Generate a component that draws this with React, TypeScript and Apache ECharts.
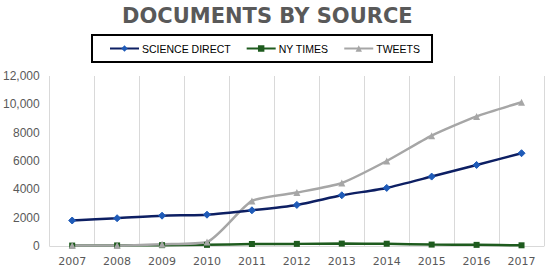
import React, { useEffect, useRef } from "react";
import * as echarts from "echarts";

const years = ["2007", "2008", "2009", "2010", "2011", "2012", "2013", "2014", "2015", "2016", "2017"];
const scienceDirect = [1800, 1960, 2140, 2210, 2520, 2900, 3580, 4100, 4900, 5720, 6550];
const nyTimes = [30, 40, 60, 80, 140, 150, 170, 160, 100, 80, 50];
const tweets = [30, 30, 120, 280, 3180, 3770, 4450, 6000, 7790, 9150, 10150];

export default function App() {
  const ref = useRef<HTMLDivElement>(null);
  useEffect(() => {
    if (!ref.current) return;
    const chart = echarts.init(ref.current, undefined, { renderer: "svg" });
    chart.setOption({
      animation: false,
      backgroundColor: "#ffffff",
      title: {
        text: "DOCUMENTS BY SOURCE",
        left: 117,
        top: 0,
        textStyle: { fontFamily: "DejaVu Sans", fontWeight: "bold", fontSize: 21, color: "#595959" },
      },
      legend: {
        left: 92,
        top: 35,
        padding: [8, 12, 8, 17],
        borderColor: "#000000",
        borderWidth: 2,
        itemWidth: 29,
        itemHeight: 8,
        itemGap: 15,
        textStyle: {
          fontFamily: "Liberation Sans",
          fontSize: 10.5,
          color: "#000000",
          padding: [0, 0, 0, -2],
        },
        data: ["SCIENCE DIRECT", "NY TIMES", "TWEETS"],
      },
      grid: { left: 47, right: 6, top: 76, bottom: 24, containLabel: false },
      xAxis: {
        type: "category",
        data: years,
        boundaryGap: true,
        axisLine: { show: true, lineStyle: { color: "#d9d9d9", width: 1 } },
        axisTick: { show: false },
        splitLine: { show: true, lineStyle: { color: "#d9d9d9", width: 1 } },
        axisLabel: { fontFamily: "DejaVu Sans", fontSize: 11, color: "#595959", margin: 10 },
      },
      yAxis: {
        type: "value",
        min: 0,
        max: 12000,
        interval: 2000,
        axisLine: { show: false },
        axisTick: { show: false },
        splitLine: { show: false },
        axisLabel: {
          fontFamily: "Liberation Sans",
          fontSize: 12,
          color: "#595959",
          margin: 10,
          formatter: (v: number) => (v >= 10000 ? v.toLocaleString("en-US") : String(v)),
        },
      },
      series: [
        {
          name: "SCIENCE DIRECT",
          type: "line",
          data: scienceDirect,
          smooth: 0.2,
          symbol: "diamond",
          symbolSize: 7,
          lineStyle: { color: "#0d1f63", width: 2.5 },
          itemStyle: { color: "#1f5bb8", borderColor: "#1f5bb8" },
          z: 3,
        },
        {
          name: "NY TIMES",
          type: "line",
          data: nyTimes,
          smooth: 0.2,
          symbol: "rect",
          symbolSize: 6,
          lineStyle: { color: "#1e5b1e", width: 2.5 },
          itemStyle: { color: "#1e5b1e" },
          z: 2,
        },
        {
          name: "TWEETS",
          type: "line",
          data: tweets,
          smooth: 0.2,
          symbol: "triangle",
          symbolSize: 7,
          lineStyle: { color: "#a6a6a6", width: 2.5 },
          itemStyle: { color: "#a6a6a6" },
          z: 2,
        },
      ],
    });
    return () => chart.dispose();
  }, []);
  return <div ref={ref} style={{ width: 550, height: 270, position: "absolute", left: 0, top: 0 }} />;
}
